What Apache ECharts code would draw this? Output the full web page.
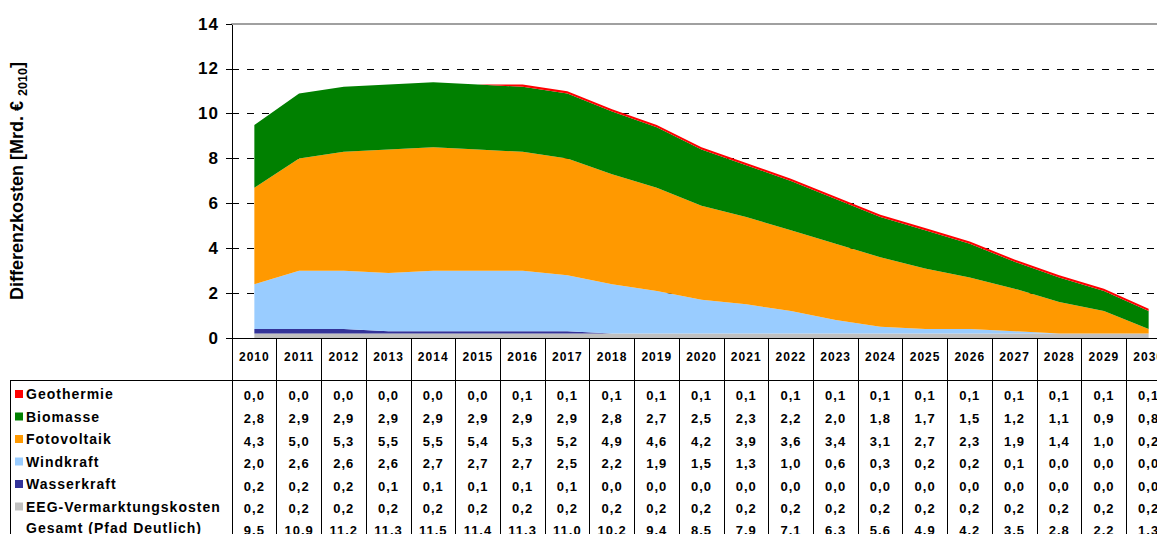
<!DOCTYPE html>
<html lang="de">
<head>
<meta charset="UTF-8">
<title>Differenzkosten</title>
<script src="https://cdn.jsdelivr.net/npm/echarts@6/dist/echarts.min.js"></script>
<style>
    body { margin: 0; background: #fff; }
    #main { width: 1157px; height: 534px; }
    /* the original table text is spread out a little */
    #main text { letter-spacing: 1px; }
    /* axis name is rich text, keep its pieces together */
    #main text[style*="18px"], #main text[style*="12.5px"] { letter-spacing: 0; }
</style>
</head>
<body>
<div id="main"></div>
<script>
    // Werte aus der Tabelle unter dem Diagramm (Mrd. Euro 2010)
    var years = ['2010','2011','2012','2013','2014','2015','2016','2017','2018','2019','2020',
                 '2021','2022','2023','2024','2025','2026','2027','2028','2029','2030'];
    var geothermie = [0.0,0.0,0.0,0.0,0.0,0.0,0.1,0.1,0.1,0.1,0.1,0.1,0.1,0.1,0.1,0.1,0.1,0.1,0.1,0.1,0.1];
    var biomasse   = [2.8,2.9,2.9,2.9,2.9,2.9,2.9,2.9,2.8,2.7,2.5,2.3,2.2,2.0,1.8,1.7,1.5,1.2,1.1,0.9,0.8];
    var fotovoltaik= [4.3,5.0,5.3,5.5,5.5,5.4,5.3,5.2,4.9,4.6,4.2,3.9,3.6,3.4,3.1,2.7,2.3,1.9,1.4,1.0,0.2];
    var windkraft  = [2.0,2.6,2.6,2.6,2.7,2.7,2.7,2.5,2.2,1.9,1.5,1.3,1.0,0.6,0.3,0.2,0.2,0.1,0.0,0.0,0.0];
    var wasserkraft= [0.2,0.2,0.2,0.1,0.1,0.1,0.1,0.1,0.0,0.0,0.0,0.0,0.0,0.0,0.0,0.0,0.0,0.0,0.0,0.0,0.0];
    var eegKosten  = [0.2,0.2,0.2,0.2,0.2,0.2,0.2,0.2,0.2,0.2,0.2,0.2,0.2,0.2,0.2,0.2,0.2,0.2,0.2,0.2,0.2];
    var gesamt     = [9.5,10.9,11.2,11.3,11.5,11.4,11.3,11.0,10.2,9.4,8.5,7.9,7.1,6.3,5.6,4.9,4.2,3.5,2.8,2.2,1.3];

    var FONT = '"Liberation Sans", Arial, sans-serif';

    // stack from bottom to top
    var layers = [
        {name: 'EEG-Vermarktungskosten', data: eegKosten,   color: '#c0c0c0'},
        {name: 'Wasserkraft',            data: wasserkraft, color: '#333399'},
        {name: 'Windkraft',              data: windkraft,   color: '#99ccff'},
        {name: 'Fotovoltaik',            data: fotovoltaik, color: '#ff9900'},
        {name: 'Biomasse',               data: biomasse,    color: '#008000'},
        {name: 'Geothermie',             data: geothermie,  color: '#ff0000'}
    ];
    // table rows from top to bottom
    var rows = [geothermie, biomasse, fotovoltaik, windkraft, wasserkraft, eegKosten, gesamt];
    var rowY = [394, 417, 440, 462, 485, 507, 529];

    function fmt(v) {
        return v.toFixed(1).replace('.', ',');
    }

    var series = layers.map(function (l) {
        return {
            name: l.name,
            type: 'line',
            stack: 'kosten',
            data: l.data,
            color: l.color,
            showSymbol: false,
            lineStyle: {width: 0},
            areaStyle: {color: l.color, opacity: 1},
            emphasis: {disabled: true}
        };
    });

    var xAxes = [
        {   // years = header row
            type: 'category',
            data: years,
            boundaryGap: true,
            axisLine: {lineStyle: {color: '#000', width: 1}},
            axisTick: {show: true, length: 42, interval: 0, lineStyle: {color: '#000'}},
            axisLabel: {interval: 0, margin: 19, verticalAlign: 'middle', color: '#000',
                        fontFamily: FONT, fontWeight: 'bold', fontSize: 12}
        },
        {   // top border of the plot
            type: 'category',
            data: years,
            position: 'top',
            axisLine: {lineStyle: {color: '#a0a0a0', width: 2}},
            axisTick: {show: false},
            axisLabel: {show: false}
        },
        {   // table body grid
            type: 'category',
            data: years,
            position: 'bottom',
            offset: 42,
            axisLine: {lineStyle: {color: '#000', width: 1}},
            axisTick: {show: true, length: 170, interval: 0, lineStyle: {color: '#000'}},
            axisLabel: {show: false}
        }
    ];
    rows.forEach(function (arr, r) {
        xAxes.push({
            type: 'category',
            data: years,
            position: 'bottom',
            offset: rowY[r] - 337,
            axisLine: {show: false},
            axisTick: {show: false},
            axisLabel: {
                interval: 0, margin: 0, verticalAlign: 'middle', color: '#000',
                fontFamily: FONT, fontWeight: 'bold', fontSize: 13,
                formatter: function (val, idx) { return fmt(arr[idx]); }
            }
        });
    });

    var option = {
        animation: false,
        backgroundColor: '#fff',
        grid: {left: 232, right: -14, top: 24, bottom: 196, containLabel: false, outerBoundsMode: 'none'},
        legend: {
            orient: 'vertical',
            left: 10,
            top: 378,
            itemWidth: 8,
            itemHeight: 8,
            itemGap: 0.5,
            icon: 'rect',
            selectedMode: false,
            data: ['Geothermie', 'Biomasse', 'Fotovoltaik', 'Windkraft', 'Wasserkraft', 'EEG-Vermarktungskosten'],
            textStyle: {color: '#000', fontFamily: FONT, fontWeight: 'bold', fontSize: 14,
                        lineHeight: 22, padding: [0, 0, 0, -2]}
        },
        xAxis: xAxes,
        yAxis: {
            type: 'value',
            min: 0,
            max: 14,
            interval: 2,
            name: '{a|Differenzkosten [Mrd. € }{s|2010}{a|]}',
            nameLocation: 'middle',
            nameRotate: 90,
            nameGap: 203,
            nameTextStyle: {
                lineHeight: 24,
                rich: {
                    a: {fontFamily: FONT, fontWeight: 'bold', fontSize: 18, color: '#000', lineHeight: 24, verticalAlign: 'middle'},
                    s: {fontFamily: FONT, fontWeight: 'bold', fontSize: 12.5, color: '#000', lineHeight: 24, verticalAlign: 'bottom'}
                }
            },
            axisLine: {show: true, lineStyle: {color: '#000', width: 1}},
            axisTick: {show: true, length: 6, lineStyle: {color: '#000'}},
            axisLabel: {color: '#000', fontFamily: FONT, fontWeight: 'bold', fontSize: 17, margin: 13},
            splitLine: {show: true, lineStyle: {color: '#000', type: [7, 8], width: 1}}
        },
        graphic: [
            {type: 'line', shape: {x1: 10, y1: 380.5, x2: 232, y2: 380.5}, style: {stroke: '#000', lineWidth: 1}},
            {type: 'line', shape: {x1: 10.5, y1: 380, x2: 10.5, y2: 534}, style: {stroke: '#000', lineWidth: 1}},
            {type: 'text', left: 26, top: 521,
             style: {text: 'Gesamt (Pfad Deutlich)', fill: '#000', font: 'bold 14px ' + FONT}}
        ],
        series: series
    };

    var myChart = echarts.init(document.getElementById('main'), null, {renderer: 'svg'});
    myChart.setOption(option);
</script>
</body>
</html>
